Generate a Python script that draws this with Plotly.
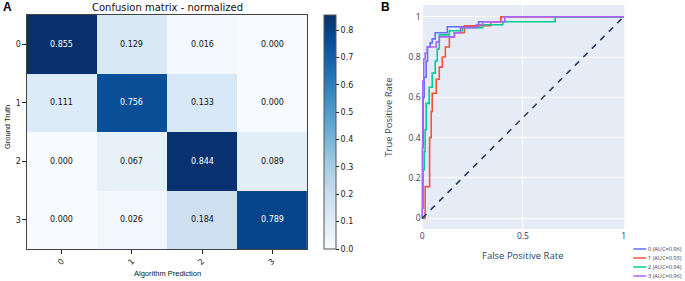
import plotly.graph_objects as go

W, H = 685, 281

# ---------------- data ----------------
cm_classes = ["0", "1", "2", "3"]
cm_values = [
    [0.855, 0.129, 0.016, 0.000],
    [0.111, 0.756, 0.133, 0.000],
    [0.000, 0.067, 0.844, 0.089],
    [0.000, 0.026, 0.184, 0.789],
]
cbar_ticks = [0.0, 0.1, 0.2, 0.3, 0.4, 0.5, 0.6, 0.7, 0.8]

roc_names = ["0", "1", "2", "3"]
roc_auc = [0.96, 0.93, 0.94, 0.96]

fpr0 = [0, 0, 0.005, 0.005, 0.01, 0.01, 0.02, 0.02, 0.027, 0.027, 0.04, 0.04, 0.05, 0.05,
        0.065, 0.065, 0.125, 0.125, 0.28, 0.28, 0.39, 0.39, 1.0]
tpr0 = [0, 0.35, 0.35, 0.6, 0.6, 0.7, 0.7, 0.78, 0.78, 0.85, 0.85, 0.87, 0.87, 0.89,
        0.89, 0.92, 0.92, 0.95, 0.95, 0.975, 0.975, 1.0, 1.0]

fpr1 = [0, 0.015, 0.015, 0.037, 0.037, 0.045, 0.045, 0.05, 0.05, 0.07, 0.07, 0.085, 0.085,
        0.1, 0.1, 0.115, 0.115, 0.135, 0.135, 0.16, 0.16, 0.21, 0.21, 0.34, 0.34, 0.39, 0.39, 1.0]
tpr1 = [0, 0, 0.157, 0.157, 0.4, 0.4, 0.53, 0.53, 0.62, 0.62, 0.69, 0.69, 0.75,
        0.75, 0.8, 0.8, 0.85, 0.85, 0.9, 0.9, 0.92, 0.92, 0.955, 0.955, 0.975, 0.975, 1.0, 1.0]

fpr2 = [0, 0, 0.005, 0.005, 0.01, 0.01, 0.015, 0.015, 0.02, 0.02, 0.035, 0.035, 0.05, 0.05,
        0.065, 0.065, 0.075, 0.075, 0.085, 0.085, 0.135, 0.135, 0.2, 0.2, 0.3, 0.3, 0.4, 0.4,
        0.66, 0.66, 1.0]
tpr2 = [0, 0.05, 0.05, 0.24, 0.24, 0.33, 0.33, 0.44, 0.44, 0.57, 0.57, 0.65, 0.65, 0.72,
        0.72, 0.78, 0.78, 0.84, 0.84, 0.91, 0.91, 0.93, 0.93, 0.945, 0.945, 0.96, 0.96, 0.975,
        0.975, 1.0, 1.0]

fpr3 = [0, 0, 0.003, 0.003, 0.008, 0.008, 0.015, 0.015, 0.025, 0.025, 0.07, 0.07, 0.085, 0.085,
        0.16, 0.16, 0.19, 0.19, 0.27, 0.27, 0.3, 0.3, 0.41, 0.41, 1.0]
tpr3 = [0, 0.5, 0.5, 0.68, 0.68, 0.79, 0.79, 0.82, 0.82, 0.85, 0.85, 0.875, 0.875, 0.9,
        0.9, 0.92, 0.92, 0.945, 0.945, 0.96, 0.96, 0.975, 0.975, 1.0, 1.0]

roc_fpr = [fpr0, fpr1, fpr2, fpr3]
roc_tpr = [tpr0, tpr1, tpr2, tpr3]
diag_x = [0, 1]
diag_y = [0, 1]

# ---------------- styles ----------------
blues = [
    [0.0, "#f7fbff"], [0.125, "#deebf7"], [0.25, "#c6dbef"], [0.375, "#9ecae1"],
    [0.5, "#6baed6"], [0.625, "#4292c6"], [0.75, "#2171b5"], [0.875, "#08519c"],
    [1.0, "#08306b"],
]
roc_colors = ["#636EFA", "#EF553B", "#00CC96", "#AB63FA"]
MPL = "DejaVu Sans"
PLY = "Open Sans"


def fx(p):
    return p / W


def fy(p):
    return 1 - p / H


fig = go.Figure()

zmax = max(max(r) for r in cm_values)
fig.add_trace(go.Heatmap(
    z=cm_values,
    x=list(range(len(cm_classes))),
    y=list(range(len(cm_classes))),
    colorscale=blues, zmin=0, zmax=zmax,
    hoverinfo="skip",
    colorbar=dict(
        x=fx(324), xanchor="left", xpad=0, ypad=0,
        y=fy(249), yanchor="bottom", len=234 / H, lenmode="fraction",
        thickness=12, thicknessmode="pixels",
        outlinecolor="#555", outlinewidth=1,
        tickvals=cbar_ticks, ticktext=[f"{t:.1f}" for t in cbar_ticks],
        ticks="outside", ticklen=3, tickcolor="#222",
        tickfont=dict(family=MPL, size=8, color="#222"),
    ),
    xaxis="x", yaxis="y",
))

thresh = zmax / 2
annotations = []
for i, row in enumerate(cm_values):
    for j, v in enumerate(row):
        annotations.append(dict(
            x=j, y=i, xref="x", yref="y", text=f"{v:.3f}", showarrow=False,
            font=dict(family=MPL, size=8, color="white" if v > thresh else "#111"),
        ))

for k in range(len(roc_names)):
    fig.add_trace(go.Scatter(
        x=roc_fpr[k], y=roc_tpr[k], mode="lines",
        name=f"{roc_names[k]} (AUC={roc_auc[k]:.2f})",
        line=dict(color=roc_colors[k], width=1.6),
        xaxis="x2", yaxis="y2", showlegend=False, hoverinfo="skip",
    ))
fig.add_trace(go.Scatter(
    x=diag_x, y=diag_y, mode="lines",
    line=dict(color="#2a3f5f", width=1.6, dash="6px,6px"),
    xaxis="x2", yaxis="y2", showlegend=False, hoverinfo="skip",
))

# custom compact legend
shapes = []
leg_y = [249, 258, 267, 276]
for k in range(len(roc_names)):
    shapes.append(dict(type="line", xref="paper", yref="paper",
                       x0=fx(635), x1=fx(648), y0=fy(leg_y[k]), y1=fy(leg_y[k]),
                       line=dict(color=roc_colors[k], width=1.5)))
    annotations.append(dict(xref="paper", yref="paper", x=fx(649), y=fy(leg_y[k]),
                            xanchor="left", yanchor="middle", showarrow=False,
                            borderpad=0,
                            text=f"{roc_names[k]} (AUC={roc_auc[k]:.2f})",
                            font=dict(family=PLY, size=5.6, color="#2a3f5f")))

# titles / labels
annotations += [
    dict(xref="paper", yref="paper", x=fx(166), y=fy(7), text="Confusion matrix - normalized",
         showarrow=False, xanchor="center", yanchor="middle",
         font=dict(family=MPL, size=10, color="#111")),
    dict(xref="paper", yref="paper", x=fx(166), y=fy(273), text="Algorithm Prediction",
         showarrow=False, xanchor="center", yanchor="middle",
         font=dict(family="Liberation Sans", size=7.5, color="#111")),
    dict(xref="paper", yref="paper", x=fx(5), y=fy(127), text="Ground Truth", textangle=-90,
         showarrow=False, xanchor="center", yanchor="middle",
         font=dict(family="Liberation Sans", size=7.5, color="#111")),
    dict(xref="paper", yref="paper", x=fx(6), y=fy(7), text="<b>A</b>",
         showarrow=False, xanchor="center", yanchor="middle",
         font=dict(family="Liberation Sans", size=12, color="#000")),
    dict(xref="paper", yref="paper", x=fx(385.5), y=fy(7.5), text="<b>B</b>",
         showarrow=False, xanchor="center", yanchor="middle",
         font=dict(family="Liberation Sans", size=12, color="#000")),
    dict(xref="paper", yref="paper", x=fx(524), y=fy(255), text="False Positive Rate",
         showarrow=False, xanchor="center", yanchor="middle",
         font=dict(family=PLY, size=9.5, color="#2a3f5f")),
    dict(xref="paper", yref="paper", x=fx(388), y=fy(117), text="True Positive Rate",
         textangle=-90, showarrow=False, xanchor="center", yanchor="middle",
         font=dict(family=PLY, size=9.5, color="#2a3f5f")),
]

fig.update_layout(
    width=W, height=H,
    margin=dict(l=0, r=0, t=0, b=0),
    paper_bgcolor="white",
    plot_bgcolor="#E5ECF6",
    showlegend=False,
    annotations=annotations,
    shapes=shapes,
    xaxis=dict(
        domain=[fx(25), fx(307)], range=[-0.5, 3.5], anchor="y",
        tickvals=list(range(len(cm_classes))), ticktext=cm_classes, tickangle=-45,
        ticks="outside", ticklen=3.5, tickcolor="#222",
        tickfont=dict(family=MPL, size=8, color="#222"),
        showgrid=False, zeroline=False, showline=True, mirror=True,
        linecolor="#444", linewidth=1,
    ),
    yaxis=dict(
        domain=[fy(249), fy(15)], range=[3.5, -0.5], anchor="x",
        tickvals=list(range(len(cm_classes))), ticktext=cm_classes,
        ticks="outside", ticklen=3.5, tickcolor="#222",
        tickfont=dict(family=MPL, size=8, color="#222"),
        showgrid=False, zeroline=False, showline=True, mirror=True,
        linecolor="#444", linewidth=1,
    ),
    xaxis2=dict(
        domain=[fx(422), fx(626)], range=[-0.003, 1.003], anchor="y2",
        tickvals=[0, 0.5, 1], ticktext=["0", "0.5", "1"],
        tickfont=dict(family=PLY, size=8.5, color="#2a3f5f"),
        showgrid=True, gridcolor="white", gridwidth=1,
        zeroline=True, zerolinecolor="white", zerolinewidth=1.5,
        showline=False,
    ),
    yaxis2=dict(
        domain=[fy(229), fy(5)], range=[-0.053, 1.058], anchor="x2",
        tickvals=[0, 0.2, 0.4, 0.6, 0.8, 1], ticktext=["0", "0.2", "0.4", "0.6", "0.8", "1"],
        tickfont=dict(family=PLY, size=8.5, color="#2a3f5f"),
        showgrid=True, gridcolor="white", gridwidth=1,
        zeroline=True, zerolinecolor="white", zerolinewidth=1.5,
        showline=False,
    ),
)

fig.write_html("out.html", config={"displayModeBar": False, "staticPlot": True})

# remove the browser's default page margin so the figure sits at (0, 0)
with open("out.html", "r", encoding="utf-8") as f:
    html = f.read()
html = html.replace("<head>", "<head><style>html,body{margin:0;padding:0;overflow:hidden;}</style>", 1)
with open("out.html", "w", encoding="utf-8") as f:
    f.write(html)
